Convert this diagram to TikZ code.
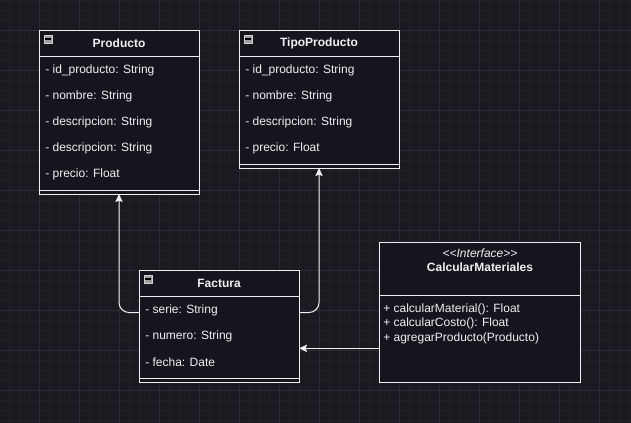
\documentclass[tikz,border=0pt]{standalone}
\usepackage{fontspec}
\setmainfont{Liberation Sans}
\usetikzlibrary{arrows.meta}

\definecolor{canvas}{HTML}{1B1A21}
\definecolor{minorgrid}{HTML}{222128}
\definecolor{majorgrid}{HTML}{2C2B33}
\definecolor{boxfill}{HTML}{18141D}
\definecolor{ink}{HTML}{F0F0F0}

\begin{document}
\begin{tikzpicture}
  [x=0.75pt, y=-0.75pt, font=\fontsize{9pt}{10.8pt}\selectfont]
  \tikzstyle{classbox}  = [draw=ink, fill=boxfill, line width=0.75pt, inner sep=0pt, outer sep=0pt, minimum width=120pt];
  \tikzstyle{boxline}   = [draw=ink, line width=0.75pt];
  \tikzstyle{title}     = [text=ink, font=\fontsize{9pt}{10.8pt}\selectfont\bfseries, inner sep=0pt];
  \tikzstyle{attr}      = [text=ink, anchor=west, inner sep=0pt];
  \tikzstyle{iconbox}   = [draw=gray!35, fill=gray!75, line width=0.6pt, minimum size=6pt, inner sep=0pt];
  \tikzstyle{minus}     = [draw=black, line width=1.2pt];
  \tikzstyle{link}      = [draw=ink, line width=0.75pt, -{Stealth[length=6pt, width=5.5pt, inset=1pt]}];

  % background and grid
  \useasboundingbox (0,0) rectangle (631,422);
  \begin{scope}
    \clip (-4,-4) rectangle (635,426);
    \fill[canvas] (-4,-4) rectangle (635,426);
    \begin{scope}[xshift=-0.75pt]
      \draw[minorgrid, line width=0.75pt, step=7.5pt] (0,-10) grid (640,430);
    \end{scope}
    \begin{scope}[xshift=-0.75pt, yshift=-22.5pt]
      \draw[majorgrid, line width=0.75pt, step=30pt] (0,-40) grid (640,400);
    \end{scope}
  \end{scope}

  % Producto
  \node[classbox, minimum height=123pt] (producto) at (119,112) {};
  \draw[boxline] (39,56) -- (199,56);
  \draw[boxline] (39,190) -- (199,190);
  \node[iconbox] (picon) at (48,39) {};
  \draw[minus] ([xshift=1.2pt]picon.west) -- ([xshift=-1.2pt]picon.east);
  \node[title] (ptitle) at (119,43.5) {Producto};
  \node[attr] (p1) at (45,70) {- id\_producto: String};
  \node[attr] (p2) at (45,96) {- nombre: String};
  \node[attr] (p3) at (45,122) {- descripcion: String};
  \node[attr] (p4) at (45,148) {- descripcion: String};
  \node[attr] (p5) at (45,174) {- precio: Float};

  % TipoProducto
  \node[classbox, minimum height=103.5pt] (tipo) at (319,99) {};
  \draw[boxline] (239,56) -- (399,56);
  \draw[boxline] (239,164) -- (399,164);
  \node[iconbox] (ticon) at (248,39) {};
  \draw[minus] ([xshift=1.2pt]ticon.west) -- ([xshift=-1.2pt]ticon.east);
  \node[title] (ttitle) at (319,43.5) {TipoProducto};
  \node[attr] (t1) at (245,70) {- id\_producto: String};
  \node[attr] (t2) at (245,96) {- nombre: String};
  \node[attr] (t3) at (245,122) {- descripcion: String};
  \node[attr] (t4) at (245,148) {- precio: Float};

  % Factura
  \node[classbox, minimum height=84pt] (factura) at (219,326) {};
  \draw[boxline] (139,296) -- (299,296);
  \draw[boxline] (139,378) -- (299,378);
  \node[iconbox] (ficon) at (148,279) {};
  \draw[minus] ([xshift=1.2pt]ficon.west) -- ([xshift=-1.2pt]ficon.east);
  \node[title] (ftitle) at (219,283.5) {Factura};
  \node[attr] (f1) at (145,310) {- serie: String};
  \node[attr] (f2) at (145,336) {- numero: String};
  \node[attr] (f3) at (145,362) {- fecha: Date};

  % CalcularMateriales
  \node[classbox, minimum width=150.75pt, minimum height=104.6pt] (calcular) at (480,312.3) {};
  \draw[boxline] (379.5,295.5) -- (580.5,295.5);
  \node[text=ink, inner sep=0pt] (stereo) at (480,253.5) {\itshape {<}{<}Interface{>}{>}};
  \node[title] (ctitle) at (480,267.5) {CalcularMateriales};
  \node[attr] (c1) at (383,309.5) {+ calcularMaterial(): Float};
  \node[attr] (c2) at (383,323.5) {+ calcularCosto(): Float};
  \node[attr] (c3) at (383,338) {+ agregarProducto(Producto)};

  % relaciones
  \draw[link, rounded corners=7.5pt] ([yshift=10.1pt]factura.west) -| (producto.south);
  \draw[link, rounded corners=7.5pt] ([yshift=10.1pt]factura.east) -| (tipo.south);
  \draw[link] ([yshift=-27pt]calcular.west) -- ([yshift=-27pt]calcular.west -| factura.east);

\end{tikzpicture}
\end{document}
